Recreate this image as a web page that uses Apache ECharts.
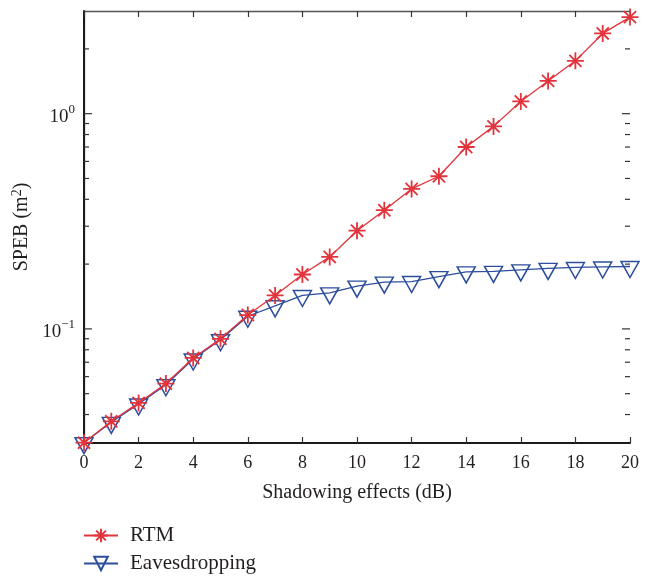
<!DOCTYPE html>
<html>
<head>
<meta charset="utf-8">
<script src="https://cdn.jsdelivr.net/npm/echarts@6/dist/echarts.min.js"></script>
<style>
  html, body { margin: 0; padding: 0; background: #fff; }
  #main { width: 655px; height: 579px; }
</style>
</head>
<body>
<div id="main"></div>
<script>
// shadowing effects (dB)
const shadowing = [0, 1, 2, 3, 4, 5, 6, 7, 8, 9, 10, 11, 12, 13, 14, 15, 16, 17, 18, 19, 20];
const rtm = [0.0296, 0.0372, 0.0453, 0.0557, 0.0733, 0.0899, 0.1160, 0.143, 0.179, 0.216, 0.286, 0.356,
  0.447, 0.512, 0.700, 0.873, 1.14, 1.42, 1.76, 2.36, 2.81];
const eaves = [0.0296, 0.0368, 0.0448, 0.0550, 0.0725, 0.0890, 0.1145, 0.128, 0.143, 0.147, 0.158, 0.165,
  0.166, 0.175, 0.184, 0.185, 0.188, 0.191, 0.193, 0.194, 0.195];
// log axis ticks
const yMajorTicks = [0.1, 1];
const yMinorTicks = [0.04, 0.05, 0.06, 0.07, 0.08, 0.09, 0.2, 0.3, 0.4, 0.5, 0.6, 0.7, 0.8, 0.9, 2];

const font = '"Liberation Serif", "DejaVu Serif", serif';
const textColor = '#231f20';
const red = '#e2343c';
const blue = '#2d4e9c';

const chart = echarts.init(document.getElementById('main'), null, { renderer: 'canvas' });

function pairs(ys) {
  return shadowing.map((x, i) => [x, ys[i]]);
}

const option = {
  backgroundColor: '#fff',
  animation: false,
  grid: { left: 84, right: 25, top: 11, bottom: 136, containLabel: false },
  legend: {
    data: ['RTM', 'Eavesdropping'],
    orient: 'vertical',
    left: 83,
    top: 525,
    padding: 0,
    itemWidth: 34,
    itemHeight: 17,
    itemGap: 7,
    textStyle: { fontFamily: font, fontSize: 21, color: textColor, padding: [0, 0, 0, 7] }
  },
  xAxis: [{
    type: 'value',
    min: 0,
    max: 20,
    interval: 2,
    name: 'Shadowing effects (dB)',
    nameLocation: 'middle',
    nameGap: 40,
    nameTextStyle: { fontFamily: font, fontSize: 20, color: textColor },
    axisLine: { lineStyle: { color: '#1a1a1a', width: 2 } },
    axisTick: { inside: true, length: 6, lineStyle: { color: '#333', width: 1.2 } },
    axisLabel: { margin: 11, fontFamily: font, fontSize: 18, color: textColor },
    splitLine: { show: false }
  }, {
    type: 'value',
    position: 'top',
    min: 0,
    max: 20,
    interval: 2,
    axisLine: { lineStyle: { color: '#555', width: 1.3 } },
    axisTick: { inside: true, length: 6, lineStyle: { color: '#333', width: 1.2 } },
    axisLabel: { show: false },
    splitLine: { show: false }
  }],
  yAxis: [{
    type: 'log',
    logBase: 10,
    min: 0.0295,
    max: 3,
    name: 'SPEB (m{s|2})',
    nameLocation: 'middle',
    nameGap: 50,
    nameRotate: 90,
    nameTextStyle: {
      fontFamily: font, fontSize: 20, color: textColor,
      rich: {
        s: { fontFamily: font, fontSize: 14, color: textColor, padding: [0, 0, 8, 0] }
      }
    },
    axisLine: { lineStyle: { color: '#555', width: 1.3 } },
    axisTick: { show: false },
    axisLabel: {
      margin: 9,
      showMinLabel: false,
      showMaxLabel: false,
      formatter: function (v) {
        const e = Math.log10(v);
        if (Math.abs(e - Math.round(e)) > 1e-6) return '';
        const r = Math.round(e);
        return '{b|10}{s|' + (r < 0 ? '\u2212' + (-r) : r) + '}';
      },
      rich: {
        b: { fontFamily: font, fontSize: 19, color: textColor, lineHeight: 22, padding: [6, 0, 0, 0] },
        s: { fontFamily: font, fontSize: 13, color: textColor, lineHeight: 14, padding: [0, 0, 8, 0] }
      }
    },
    splitLine: { show: false }
  }, {
    type: 'log',
    logBase: 10,
    position: 'right',
    min: 0.0295,
    max: 3,
    axisLine: { lineStyle: { color: '#1a1a1a', width: 2 } },
    axisTick: { show: false },
    axisLabel: { show: false },
    splitLine: { show: false }
  }],
  series: [{
    name: 'Eavesdropping',
    type: 'line',
    data: pairs(eaves),
    symbol: 'path://M0,0L18,0L9,16Z',
    symbolSize: [18, 16],
    symbolOffset: [0, 3],
    lineStyle: { color: blue, width: 1.3 },
    itemStyle: { color: 'rgba(0,0,0,0)', borderColor: blue, borderWidth: 1.5 },
    z: 3
  }, {
    name: 'RTM',
    type: 'line',
    data: pairs(rtm),
    symbol: 'path://M0,7L14,7M7,0L7,14M2,2L12,12M2,12L12,2',
    symbolSize: 17,
    lineStyle: { color: red, width: 1.3 },
    itemStyle: { color: 'rgba(0,0,0,0)', borderColor: red, borderWidth: 1.8 },
    z: 4
  }, {
    name: 'yticks',
    type: 'custom',
    silent: true,
    data: yMajorTicks.concat(yMinorTicks).map(v => [0, v]),
    renderItem: function (params, api) {
      const v = api.value(1);
      const len = yMajorTicks.indexOf(v) >= 0 ? 8 : 5;
      const l = api.coord([0, v]);
      const r = api.coord([20, v]);
      const style = { stroke: '#333', lineWidth: 1.2 };
      return {
        type: 'group',
        children: [
          { type: 'line', shape: { x1: l[0], y1: l[1], x2: l[0] + len, y2: l[1] }, style: style },
          { type: 'line', shape: { x1: r[0], y1: r[1], x2: r[0] - len, y2: r[1] }, style: style }
        ]
      };
    },
    z: 5
  }]
};

chart.setOption(option);
</script>
</body>
</html>
